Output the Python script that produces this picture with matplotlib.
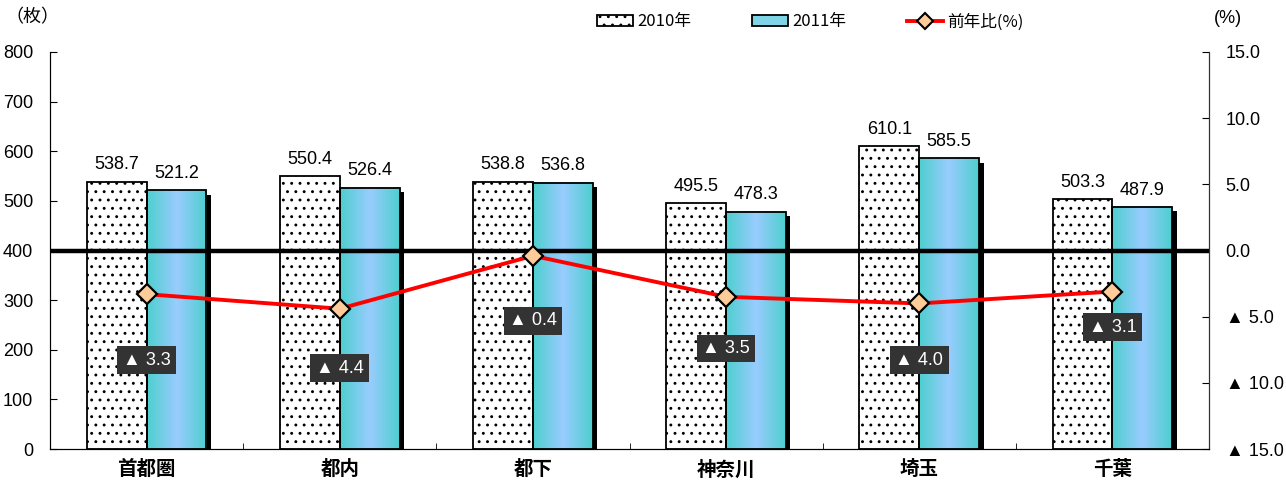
import matplotlib.pyplot as plt
import numpy as np
from matplotlib.colors import LinearSegmentedColormap
from matplotlib.patches import Patch
from matplotlib.lines import Line2D
from matplotlib.transforms import ScaledTranslation

plt.rcParams['font.family'] = ['Liberation Sans', 'DejaVu Sans']
plt.rcParams['hatch.linewidth'] = 0.9

# data
regions = ['首都圏', '都内', '都下', '神奈川', '埼玉', '千葉']
v2010 = [538.7, 550.4, 538.8, 495.5, 610.1, 503.3]
v2011 = [521.2, 526.4, 536.8, 478.3, 585.5, 487.9]
yoy = [-3.3, -4.4, -0.4, -3.5, -4.0, -3.1]

# where the yoy boxes sit (right-axis units)
box_y = [-8.3, -8.9, -5.3, -7.4, -8.3, -5.8]

jp = ['Noto Sans CJK JP', 'DejaVu Sans']

fig = plt.figure(figsize=(12.86, 4.84), dpi=100)
ax = fig.add_axes([50/1286, 1-449/484, (1209-50)/1286, (449-52)/484])

x = np.arange(len(regions))
w = 0.31

# 2011 drop shadow
shadow = ax.bar(x + w/2, v2011, w, color='black', zorder=1)
offset = ScaledTranslation(0.045, -0.045, fig.dpi_scale_trans)
for p in shadow:
    p.set_transform(ax.transData + offset)

# 2010 dotted bars
b1 = ax.bar(x - w/2, v2010, w, facecolor='white', edgecolor='black', hatch='..',
            linewidth=1.3, zorder=3)

# 2011 gradient bars
grad_cmap = LinearSegmentedColormap.from_list('g', ['#4ECFCF', '#99CCFF', '#4ECFCF'])
grad = np.linspace(0, 1, 64).reshape(1, -1)
for xi, h in zip(x, v2011):
    ax.imshow(grad, extent=(xi, xi + w, 0, h), aspect='auto', cmap=grad_cmap,
              interpolation='bicubic', zorder=2)
b2 = ax.bar(x + w/2, v2011, w, facecolor='none', edgecolor='black', linewidth=1.3, zorder=3)

ax.bar_label(b1, labels=[f'{v:.1f}' for v in v2010], padding=6, fontsize=13)
ax.bar_label(b2, labels=[f'{v:.1f}' for v in v2011], padding=6, fontsize=13)

ax.axhline(400, color='black', linewidth=3.2, zorder=4)

ax.set_xlim(-0.5, len(regions) - 0.5)
ax.set_ylim(0, 800)
ax.set_yticks(range(0, 801, 100))
ax.tick_params(axis='y', direction='in', length=5, pad=12, labelsize=13)
ax.set_xticks(x)
ax.set_xticklabels(regions, fontfamily=jp, fontweight='bold', fontsize=14)
ax.tick_params(axis='x', length=0, pad=8)
ax.set_xticks(np.arange(-0.5, len(regions)), minor=True)
ax.tick_params(axis='x', which='minor', direction='in', length=4)
ax.spines['top'].set_visible(False)
ax.spines['left'].set_color('#333333')

# right axis
ax2 = ax.twinx()
ax2.plot(x, yoy, color='red', linewidth=2.8, marker='D', markersize=10,
         markerfacecolor='#FFCC99', markeredgecolor='black', markeredgewidth=1.6, zorder=5)
for xi, v, by in zip(x, yoy, box_y):
    ax2.text(xi, by, f'▲ {abs(v):.1f}', color='white', fontsize=13, ha='center', va='center',
             bbox=dict(boxstyle='square,pad=0.3', facecolor='#333333', edgecolor='none'), zorder=6)
ax2.set_ylim(-15, 15)
ticks = [15, 10, 5, 0, -5, -10, -15]
ax2.set_yticks(ticks)
ax2.set_yticklabels([f'{t:.1f}' if t >= 0 else f'▲ {abs(t):.1f}' for t in ticks])
ax2.tick_params(axis='y', direction='in', length=5, pad=12, labelsize=13)
ax2.spines['top'].set_visible(False)
ax2.spines['right'].set_color('#333333')

fig.text(0.004, 0.965, '（枚）', fontfamily=jp, fontsize=13, va='center')
fig.text(0.944, 0.962, '(%)', fontsize=13, va='center')

handles = [
    Patch(facecolor='white', edgecolor='black', hatch='..', linewidth=1.3),
    Patch(facecolor='#80D4E8', edgecolor='black', linewidth=1.3),
    Line2D([], [], color='red', linewidth=2.8, marker='D', markersize=8,
           markerfacecolor='#FFCC99', markeredgecolor='black', markeredgewidth=1.5),
]
fig.legend(handles, ['2010年', '2011年', '前年比(%)'], loc='center left',
           bbox_to_anchor=(0.458, 0.955), ncol=3, frameon=False, borderpad=0,
           handlelength=2.15, handleheight=0.7, handletextpad=0.25, columnspacing=3.65,
           prop={'family': jp, 'size': 12})

fig.savefig('out.png', dpi=100)
